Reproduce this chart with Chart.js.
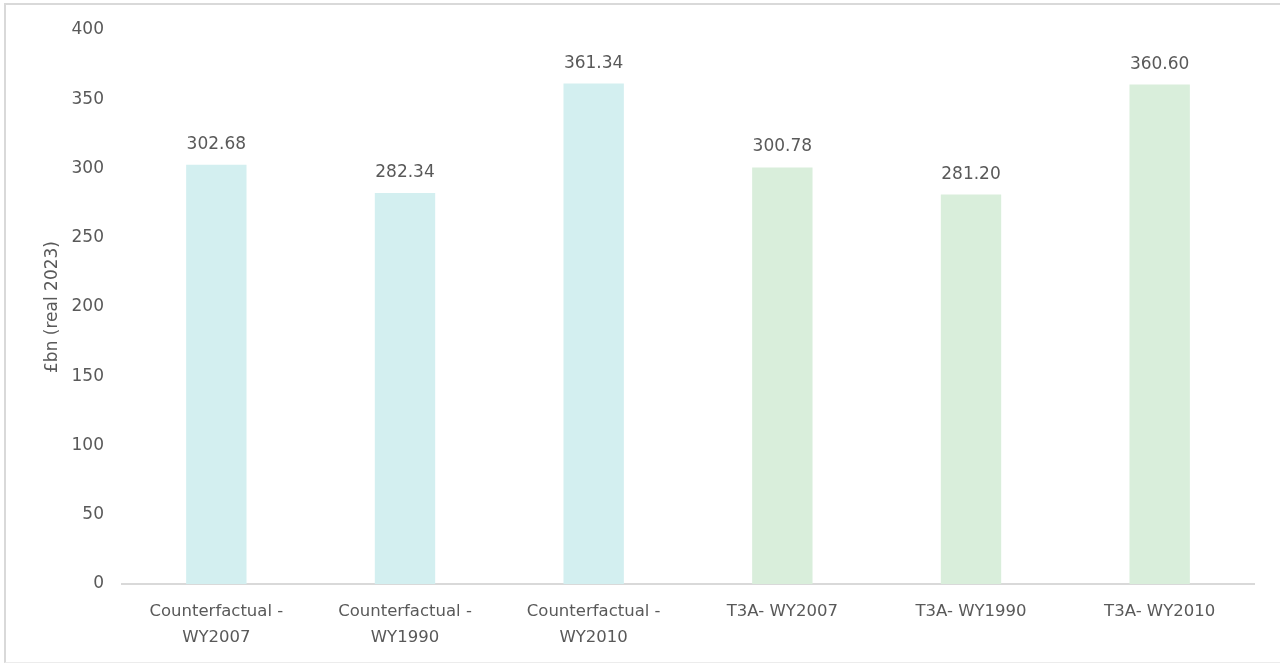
<!DOCTYPE html>
<html>
<head>
<meta charset="utf-8">
<script src="https://cdn.jsdelivr.net/npm/chart.js@4"></script>
<style>
  html, body { margin: 0; padding: 0; background: #fff; overflow: hidden; }
  #wrap { position: relative; width: 1280px; height: 664px; overflow: hidden; }
  #frame { position: absolute; left: 4px; top: 3px; width: 1300px; height: 657px; border-left: 2px solid #d9d9d9; border-top: 2px solid #d9d9d9; border-bottom: 1px solid #ececec; pointer-events: none; }
  canvas { position: absolute; left: 0; top: 0; }
</style>
</head>
<body>
<div id="wrap">
  <canvas id="myChart" width="1280" height="664"></canvas>
  <div id="frame"></div>
</div>
<script>
var categories = [
    ['Counterfactual -', 'WY2007'],
    ['Counterfactual -', 'WY1990'],
    ['Counterfactual -', 'WY2010'],
    'T3A- WY2007',
    'T3A- WY1990',
    'T3A- WY2010'
];
var values = [302.68, 282.34, 361.34, 300.78, 281.20, 360.60];
var barColours = ['#d3eff0', '#d3eff0', '#d3eff0', '#d9eedb', '#d9eedb', '#d9eedb'];
var yTicks = [0, 50, 100, 150, 200, 250, 300, 350, 400];
var yTitle = '£bn (real 2023)';

var textColour = '#595959';
var fontFamily = "'DejaVu Sans', sans-serif";

// writes the value above each bar
var valueLabels = {
    id: 'valueLabels',
    afterDatasetsDraw: function(chart){
        var c = chart.ctx;
        var meta = chart.getDatasetMeta(0);
        c.save();
        c.fillStyle = textColour;
        c.font = '17px ' + fontFamily;
        c.textAlign = 'center';
        c.textBaseline = 'alphabetic';
        meta.data.forEach(function(bar, i){
            c.fillText(values[i].toFixed(2), bar.x, bar.y - 16);
        });
        c.restore();
    }
};

var ctx = document.getElementById('myChart').getContext('2d');
var myChart = new Chart(ctx, {
    type: 'bar',
    data: {
        labels: categories,
        datasets: [{
            data: values,
            backgroundColor: barColours,
            borderWidth: 0,
            barPercentage: 0.32,
            categoryPercentage: 1
        }]
    },
    options: {
        responsive: false,
        animation: false,
        layout: { padding: { left: 42, right: 26, top: 30, bottom: 0 } },
        plugins: {
            legend: { display: false },
            tooltip: { enabled: false }
        },
        scales: {
            x: {
                grid: { display: false },
                border: { display: true, color: '#d9d9d9', width: 2 },
                ticks: {
                    color: textColour,
                    font: { family: fontFamily, size: 16.5, lineHeight: 1.55 },
                    maxRotation: 0,
                    padding: 7
                },
                afterFit: function(s){ s.height = 80; }
            },
            y: {
                min: 0,
                max: 400,
                afterBuildTicks: function(s){
                    s.ticks = yTicks.map(function(v){ return { value: v }; });
                },
                grid: { display: false },
                border: { display: false },
                ticks: {
                    color: textColour,
                    font: { family: fontFamily, size: 17 },
                    padding: 10
                },
                title: {
                    display: true,
                    text: yTitle,
                    color: textColour,
                    font: { family: fontFamily, size: 17 },
                    padding: { top: 0, bottom: 0 }
                },
                afterFit: function(s){ s.width = 80; }
            }
        }
    },
    plugins: [valueLabels]
});
</script>
</body>
</html>
